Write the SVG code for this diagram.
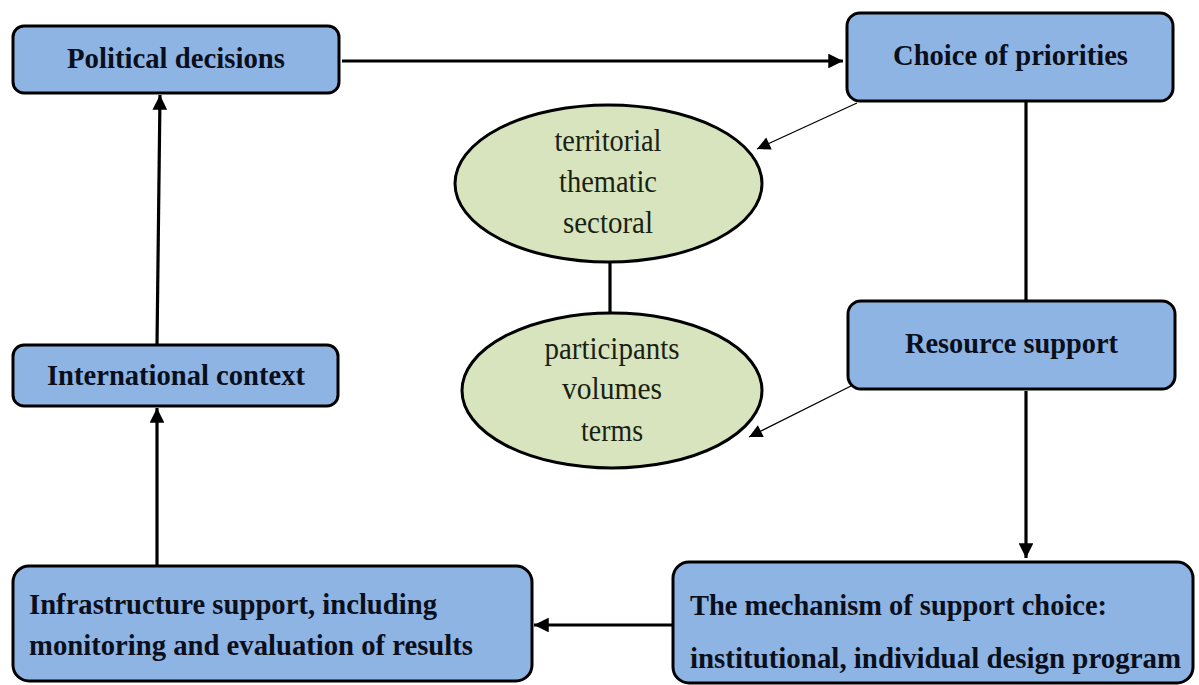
<svg xmlns="http://www.w3.org/2000/svg" width="1199" height="685" viewBox="0 0 1199 685">
  <style>
    .box { fill: #8eb4e3; stroke: #000; stroke-width: 3; }
    .oval { fill: #d7e4bd; stroke: #000; stroke-width: 3; }
    .bold { font-family: "Liberation Serif", "Times New Roman", serif; font-weight: bold; font-size: 30px; fill: #0b0f1c; }
    .plain { font-family: "Liberation Serif", "Times New Roman", serif; font-size: 31px; fill: #1a1f14; text-anchor: middle; }
    .thick { stroke: #000; stroke-width: 3.2; fill: none; }
    .thin { stroke: #000; stroke-width: 1.2; fill: none; }
  </style>
  <defs>
    <marker id="headBig" viewBox="0 0 10 10" refX="10" refY="5" markerWidth="4.6" markerHeight="4.6" orient="auto" markerUnits="strokeWidth">
      <path d="M0,0 L10,5 L0,10 z" fill="#000"/>
    </marker>
    <marker id="headThin" viewBox="0 0 10 10" refX="10" refY="5" markerWidth="13" markerHeight="11" orient="auto" markerUnits="strokeWidth">
      <path d="M0,0 L10,5 L0,10 z" fill="#000"/>
    </marker>
  </defs>

  <rect width="1199" height="685" fill="#fff"/>

  <!-- connectors -->
  <g id="connectors">
    <line class="thick" x1="342" y1="61" x2="843" y2="61" marker-end="url(#headBig)"/>
    <line class="thick" x1="1026" y1="101" x2="1026" y2="300"/>
    <line class="thick" x1="1026" y1="391" x2="1026" y2="558" marker-end="url(#headBig)"/>
    <line class="thick" x1="672" y1="625" x2="534" y2="625" marker-end="url(#headBig)"/>
    <line class="thick" x1="157" y1="565" x2="157" y2="408" marker-end="url(#headBig)"/>
    <line class="thick" x1="157" y1="345" x2="160" y2="95" marker-end="url(#headBig)"/>
    <line class="thick" x1="610" y1="262" x2="610" y2="313"/>
    <line class="thin" x1="857" y1="103" x2="757" y2="149" marker-end="url(#headThin)"/>
    <line class="thin" x1="857" y1="383" x2="749" y2="437" marker-end="url(#headThin)"/>
  </g>

  <g id="political-decisions">
    <rect class="box" x="13" y="26" width="326" height="67" rx="11"/>
    <text class="bold" x="67" y="68" textLength="218" lengthAdjust="spacingAndGlyphs">Political decisions</text>
  </g>

  <g id="choice-of-priorities">
    <rect class="box" x="847" y="13" width="326" height="88" rx="13"/>
    <text class="bold" x="893" y="65" textLength="235" lengthAdjust="spacingAndGlyphs">Choice of priorities</text>
  </g>

  <g id="resource-support">
    <rect class="box" x="848" y="301" width="327" height="88" rx="13"/>
    <text class="bold" x="905" y="353" textLength="213" lengthAdjust="spacingAndGlyphs">Resource support</text>
  </g>

  <g id="international-context">
    <rect class="box" x="13" y="345" width="325" height="61" rx="11"/>
    <text class="bold" x="47" y="385" textLength="258" lengthAdjust="spacingAndGlyphs">International context</text>
  </g>

  <g id="infrastructure-support">
    <rect class="box" x="13" y="566" width="519" height="115" rx="16"/>
    <text class="bold" x="29" y="614" textLength="408" lengthAdjust="spacingAndGlyphs">Infrastructure support, including</text>
    <text class="bold" x="29" y="655" textLength="444" lengthAdjust="spacingAndGlyphs">monitoring and evaluation of results</text>
  </g>

  <g id="support-mechanism">
    <rect class="box" x="673" y="562" width="520" height="121" rx="16"/>
    <text class="bold" x="690" y="615" textLength="417" lengthAdjust="spacingAndGlyphs">The mechanism of support choice:</text>
    <text class="bold" x="690" y="668" textLength="491" lengthAdjust="spacingAndGlyphs">institutional, individual design program</text>
  </g>

  <g id="priority-types">
    <ellipse class="oval" cx="608.5" cy="183.5" rx="153.5" ry="78.5"/>
    <text class="plain" x="608" y="151" textLength="107" lengthAdjust="spacingAndGlyphs">territorial</text>
    <text class="plain" x="608" y="192" textLength="98" lengthAdjust="spacingAndGlyphs">thematic</text>
    <text class="plain" x="608" y="233" textLength="90" lengthAdjust="spacingAndGlyphs">sectoral</text>
  </g>

  <g id="resource-parameters">
    <ellipse class="oval" cx="612" cy="390.5" rx="150" ry="77.5"/>
    <text class="plain" x="612" y="359" textLength="135" lengthAdjust="spacingAndGlyphs">participants</text>
    <text class="plain" x="612" y="399" textLength="100" lengthAdjust="spacingAndGlyphs">volumes</text>
    <text class="plain" x="612" y="441" textLength="62" lengthAdjust="spacingAndGlyphs">terms</text>
  </g>
</svg>
